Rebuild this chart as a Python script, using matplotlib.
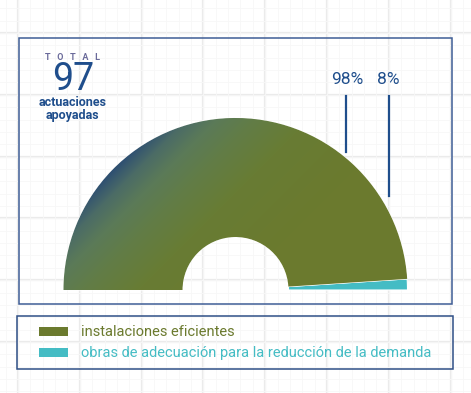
import numpy as np
import matplotlib
matplotlib.use("Agg")
import matplotlib.pyplot as plt
from matplotlib.patches import Wedge, Rectangle
from matplotlib.colors import LinearSegmentedColormap

plt.rcParams['font.family'] = ['Roboto', 'DejaVu Sans']

# datos
categorias = ["instalaciones eficientes",
              "obras de adecuación para la reducción de la demanda"]
valores = [95, 2]
etiquetas = ["98%", "8%"]
colores = ["#6B7A2E", "#44BCC4"]
total = 97

W, H = 471, 393
fig = plt.figure(figsize=(W / 100, H / 100), dpi=100)
ax = fig.add_axes([0, 0, 1, 1])
ax.set_xlim(0, W)
ax.set_ylim(H, 0)
ax.axis("off")

# cuadricula de fondo
for x in np.arange(18, W, 61.8):
    ax.axvline(x, color="#EBEBEB", lw=1.6, zorder=0)
for y in np.arange(33, H, 61.8):
    ax.axhline(y, color="#EBEBEB", lw=1.6, zorder=0)
for x in np.arange(18 - 61.8, W, 61.8 / 5):
    ax.axvline(x, color="#F7F7F7", lw=0.6, zorder=0)
for y in np.arange(33 - 61.8, H, 61.8 / 5):
    ax.axhline(y, color="#F7F7F7", lw=0.6, zorder=0)

# cajas
ax.add_patch(Rectangle((19, 38), 433, 266, fill=False,
                       ec="#3F5E96", lw=1.1, zorder=1))
ax.add_patch(Rectangle((17, 316), 436, 53, fill=False,
                       ec="#2F4F86", lw=1.1, zorder=1))

# semidonut
cx, cy, r_ext, r_int = 235.5, 290, 172, 53
angulos = np.cumsum([0] + valores[::-1]) / sum(valores) * 180
wedges = []
for i, (a0, a1) in enumerate(zip(angulos[:-1], angulos[1:])):
    c = colores[::-1][i]
    # eje y invertido: los angulos se niegan
    w = Wedge((cx, cy), r_ext, -a1, -a0, width=r_ext - r_int,
              fc=c, ec="white", lw=0.8, zorder=2)
    ax.add_patch(w)
    wedges.append(w)

# degradado sobre el segmento principal
xs, ys = np.meshgrid(np.arange(W) + 0.5, np.arange(H) + 0.5)
proj = ((cx - xs) + (cy - ys)) / np.sqrt(2) / r_ext
cmap = LinearSegmentedColormap.from_list(
    "grad", [(0, "#6B7A2E"), (0.4, "#687C34"), (0.62, "#627D46"),
             (0.78, "#5B7A58"), (0.9, "#4B6B66"), (1.0, "#2E4F72")])
img = ax.imshow(np.clip(proj, 0, 1), cmap=cmap, vmin=0, vmax=1,
                extent=(0, W, H, 0), origin="upper", zorder=3,
                interpolation="bilinear")
img.set_clip_path(wedges[1])

# etiquetas de porcentaje
ax.text(347, 80, etiquetas[0], color="#1F4E8C", fontsize=12.5,
        ha="center", va="center")
ax.text(388, 80, etiquetas[1], color="#1F4E8C", fontsize=12.5,
        ha="center", va="center")
ax.plot([346, 346], [96, 152], color="#1F4E8C", lw=1.6, zorder=4)
ax.plot([388.5, 388.5], [96, 196], color="#1F4E8C", lw=1.6, zorder=4)

# total
ax.text(72.5, 58, "T   O   T   A   L", color="#6A6A9A", fontsize=6.5,
        fontweight="bold", ha="center", va="center")
ax.text(73, 80, str(total), color="#1F4E8C", fontsize=27,
        ha="center", va="center")
ax.text(72.5, 103, "actuaciones", color="#1F4E8C", fontsize=9,
        fontweight="bold", ha="center", va="center")
ax.text(72.5, 115, "apoyadas", color="#1F4E8C", fontsize=9,
        fontweight="bold", ha="center", va="center")

# leyenda
for i, (cat, c) in enumerate(zip(categorias, colores)):
    y = 331.5 + i * 21
    ax.add_patch(Rectangle((39, y - 4.5), 29, 9, fc=c, ec="none", zorder=2))
    ax.text(81, y, cat, color=c, fontsize=10.5, ha="left", va="center")

fig.savefig("out.png", dpi=100)
